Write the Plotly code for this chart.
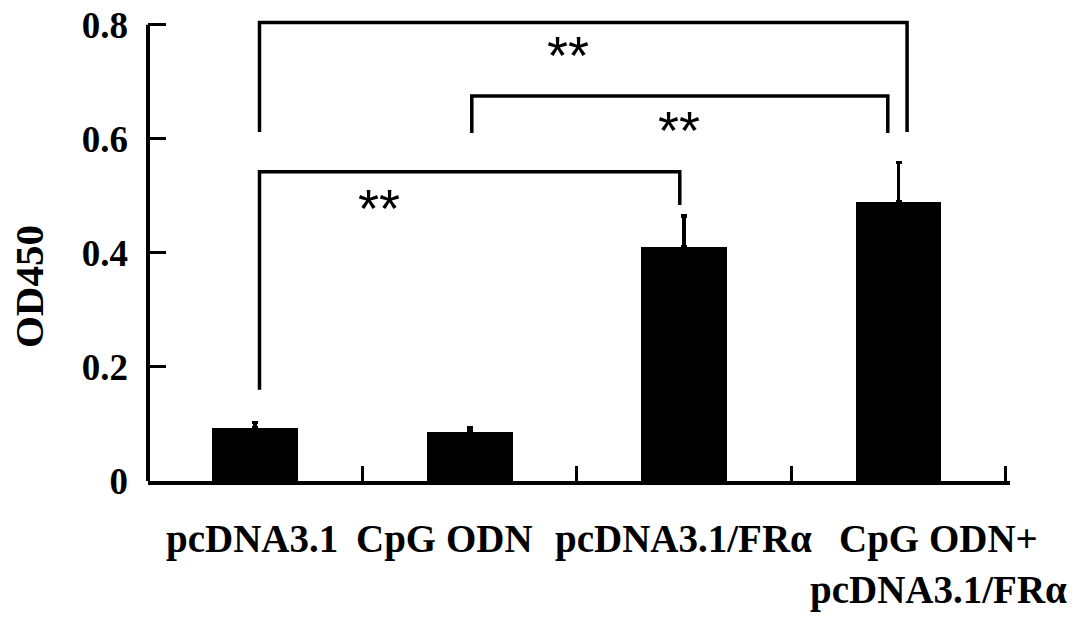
import plotly.graph_objects as go

# ---- data ----
categories = ["pcDNA3.1", "CpG ODN", "pcDNA3.1/FRα", "CpG ODN+<br>pcDNA3.1/FRα"]
od450 = [0.093, 0.086, 0.410, 0.489]
od450_err = [0.010, 0.007, 0.055, 0.069]

y_tick_vals = [0, 0.2, 0.4, 0.6, 0.8]
y_tick_text = ["0", "0.2", "0.4", "0.6", "0.8"]

# significance brackets: left x, right x, bar height, left leg bottom, right leg bottom
br_left = [0.02, 1.01, 0.02]
br_right = [3.04, 2.95, 1.98]
br_top = [0.804, 0.675, 0.542]
br_left_bottom = [0.612, 0.610, 0.160]
br_right_bottom = [0.612, 0.610, 0.484]
sig_text = ["**", "**", "**"]
sig_x = [1.46, 1.975, 0.578]
sig_y = [0.756, 0.625, 0.488]

label_shift = [-3, -25, -1, 40]

SERIF = "Liberation Serif"
xs = list(range(len(categories)))

fig = go.Figure()
fig.add_trace(go.Bar(
    x=xs, y=od450, width=0.4,
    marker=dict(color="black", line=dict(width=0)),
    error_y=dict(type="data", array=od450_err, arrayminus=[0] * len(od450),
                 symmetric=False, color="black", thickness=3.5, width=3),
    showlegend=False,
))

for i in range(len(br_left)):
    fig.add_trace(go.Scatter(
        x=[br_left[i], br_left[i], br_right[i], br_right[i]],
        y=[br_left_bottom[i], br_top[i], br_top[i], br_right_bottom[i]],
        mode="lines", line=dict(color="black", width=3.5),
        showlegend=False, cliponaxis=False, hoverinfo="skip",
    ))

annotations = []
for t, x, y in zip(sig_text, sig_x, sig_y):
    annotations.append(dict(
        x=x, y=y, xref="x", yref="y", text=t, showarrow=False,
        font=dict(family="Liberation Sans", size=54, color="black"),
        xanchor="center", yanchor="middle", yshift=-5,
    ))
for i, c in enumerate(categories):
    annotations.append(dict(
        x=xs[i], y=0, xref="x", yref="paper", text="<b>" + c.replace("<br>", "</b><br><b>") + "</b>",
        showarrow=False, xanchor="center", yanchor="top", align="center",
        xshift=label_shift[i], yshift=-34,
        font=dict(family=SERIF, size=39, color="black"),
    ))
annotations.append(dict(
    x=0, y=0.34, xref="paper", yref="y", text="<b>OD450</b>", showarrow=False,
    textangle=-90, xanchor="center", yanchor="middle", xshift=-119,
    font=dict(family=SERIF, size=41, color="black"),
))

fig.add_shape(type="line", xref="paper", yref="y", x0=0, x1=0, y0=0, y1=0.8,
              line=dict(color="black", width=4))

fig.update_layout(
    width=1087, height=621,
    margin=dict(l=148, r=77, t=19, b=140, autoexpand=False),
    paper_bgcolor="white", plot_bgcolor="white",
    annotations=annotations,
    xaxis=dict(range=[-0.5, 3.52], showgrid=False, zeroline=False, automargin=False,
               showline=True, linecolor="black", linewidth=4,
               ticks="inside", tickvals=[0.5, 1.5, 2.5, 3.5], ticklen=15,
               tickwidth=3, tickcolor="black", showticklabels=False),
    yaxis=dict(range=[0, 0.81], showgrid=False, zeroline=False, showline=False,
               automargin=False,
               ticks="inside", tickvals=y_tick_vals, ticktext=y_tick_text,
               ticklen=18, tickwidth=3, tickcolor="black",
               ticklabelstandoff=19,
               tickfont=dict(family=SERIF, size=37, color="black", weight="bold")),
    bargap=0,
)

fig.write_html("out.html", config={"displayModeBar": False},
               post_script="document.body.style.margin='0';")
